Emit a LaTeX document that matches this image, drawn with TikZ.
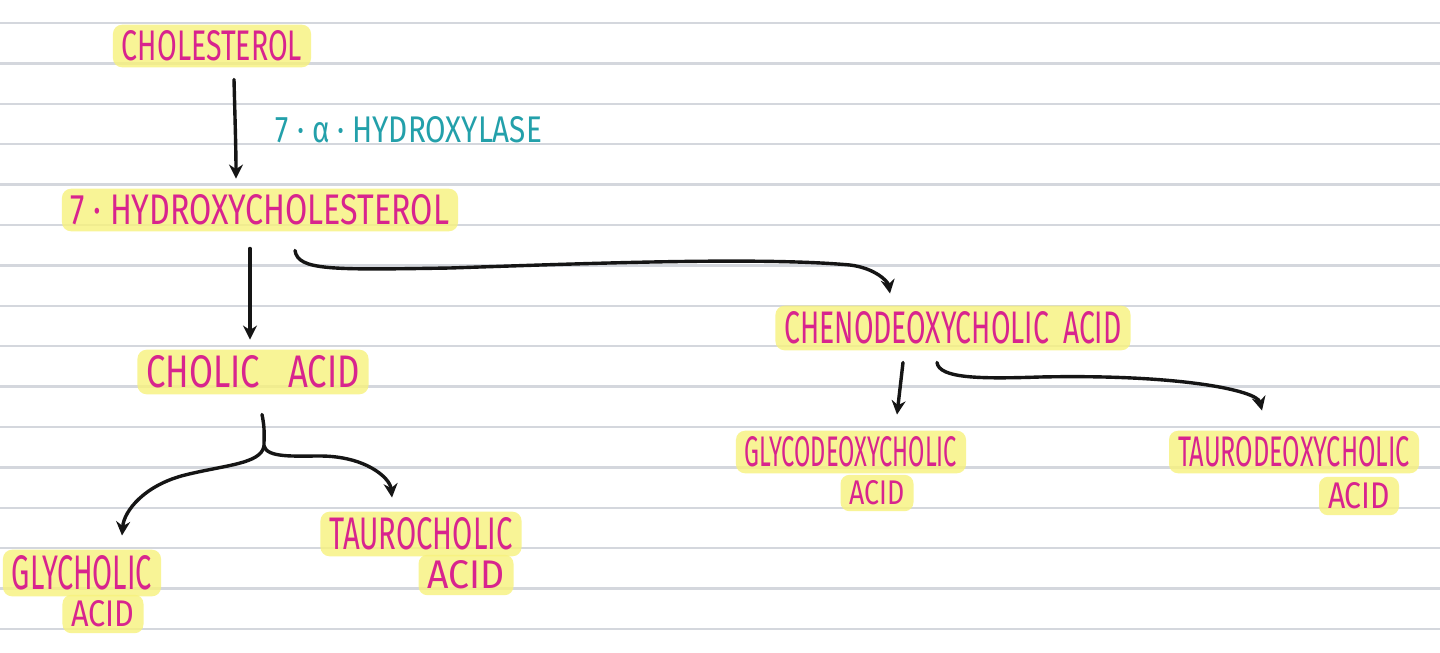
\documentclass[tikz,border=0pt]{standalone}
\usepackage{fontspec}
\usepackage{graphicx}
\setmainfont{Fira Sans}
\usetikzlibrary{arrows.meta,calc}
\definecolor{mag}{HTML}{D8248E}
\definecolor{tealink}{HTML}{23A0AA}
\definecolor{hlyellow}{HTML}{F7F27C}
\definecolor{rulegrey}{HTML}{D4D7DD}
\definecolor{ink}{HTML}{151515}
\newcommand{\hw}[3]{\resizebox{#1pt}{#2pt}{#3}}
\tikzset{
  hl/.style={fill=hlyellow, fill opacity=0.8, text opacity=1, rounded corners=9pt, inner xsep=9pt, inner ysep=6pt, text=mag},
  enz/.style={text=tealink, inner sep=0pt},
  flow/.style={draw=ink, line width=3.4pt, line cap=round, -{Stealth[length=14pt,width=14pt]}},
  flowplain/.style={draw=ink, line width=3.4pt, line cap=round},
  rule/.style={draw=rulegrey, line width=2.4pt}
}
\begin{document}
\begin{tikzpicture}[x=1pt,y=-1pt]
\useasboundingbox (0,0) rectangle (1440,653);
\fill[white] (0,0) rectangle (1440,653);
\foreach \k in {0,...,15} {
  \draw[rule] (0,{23+40.4*\k}) -- (1440,{23+40.4*\k});
}
% nodes
\node[hl] (chol) at (212,46) {\hw{180}{30}{CHOLESTEROL}};
\node[enz] (enzyme) at (409,130) {\hw{266}{26}{7 · α · HYDROXYLASE}};
\node[hl] (hc) at (260,210) {\hw{378}{30}{7 · HYDROXYCHOLESTEROL}};
\node[hl] (cholic) at (253,372) {\hw{213}{32}{CHOLIC\hspace{0.8em}ACID}};
\node[hl] (cheno) at (953,328) {\hw{337}{32}{CHENODEOXYCHOLIC\hspace{0.5em}ACID}};
\node[hl] (gly1) at (82,573) {\hw{140}{34}{GLYCHOLIC}};
\node[hl] (gly2) at (103,614) {\hw{63}{26}{ACID}};
\node[hl] (tau1) at (421,534) {\hw{183}{32}{TAUROCHOLIC}};
\node[hl] (tau2) at (466,575) {\hw{77}{28}{ACID}};
\node[hl] (glyd1) at (851,452) {\hw{212}{30}{GLYCODEOXYCHOLIC}};
\node[hl] (glyd2) at (877,493) {\hw{55}{24}{ACID}};
\node[hl] (taud1) at (1294,452) {\hw{232}{30}{TAURODEOXYCHOLIC}};
\node[hl] (taud2) at (1359,496) {\hw{62}{26}{ACID}};
\coordinate (fork) at (264,446);
% connectors
\draw[flow] ([xshift=22pt,yshift=-12pt]chol.south) .. controls +(1,40) and +(0,-30) .. ([xshift=-24pt,yshift=10pt]hc.north);
\draw[flow] ([xshift=-10pt,yshift=-17pt]hc.south) -- ([xshift=-3pt,yshift=10pt]cholic.north);
\draw[flow] ([xshift=35pt,yshift=-19pt]hc.south) .. controls +(3,20) and +(-120,2) .. (450,268) .. controls +(150,-5) and +(-90,-8) .. (850,265) .. controls +(25,3) and +(-2,-12) .. ([xshift=-63pt,yshift=12pt]cheno.north);
\draw[flow] ([xshift=-50pt,yshift=-12pt]cheno.south) -- ([xshift=46pt,yshift=16pt]glyd1.north);
\draw[flow] ([xshift=-16pt,yshift=-12pt]cheno.south) .. controls +(2,16) and +(-60,2) .. (1040,377) .. controls +(140,-3) and +(-5,-20) .. ([xshift=-32pt,yshift=20pt]taud1.north);
\draw[flowplain] ([xshift=9pt,yshift=-20pt]cholic.south) .. controls +(3,15) and +(0,-12) .. (fork);
\draw[flow] (fork) .. controls +(-3,18) and +(40,-10) .. (185,475) .. controls +(-40,10) and +(2,-25) .. ([xshift=40pt,yshift=14pt]gly1.north);
\draw[flow] (fork) .. controls +(3,12) and +(-25,0) .. (320,456) .. controls +(45,0) and +(-2,-20) .. ([xshift=-29pt,yshift=14pt]tau1.north);
\end{tikzpicture}
\end{document}
